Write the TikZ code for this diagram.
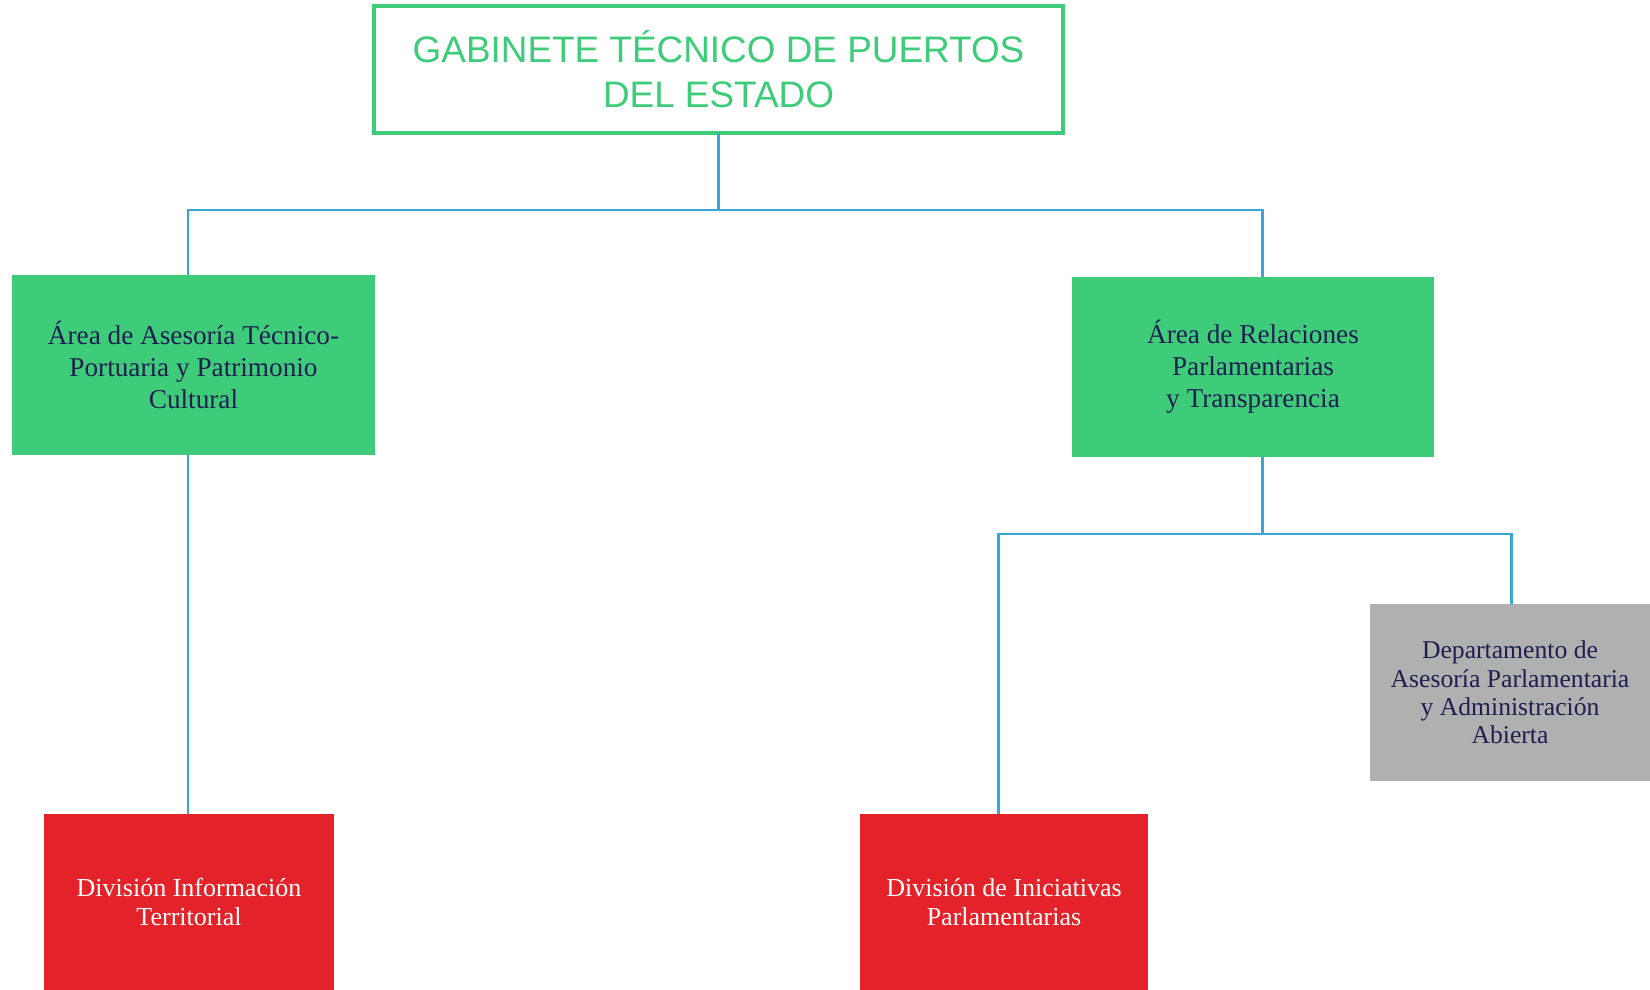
\documentclass[tikz,border=0pt]{standalone}
\usepackage{fontspec}
\usepackage{xcolor}
\usepackage{tikz}
\usetikzlibrary{positioning}
\setmainfont{Liberation Serif}
\newfontfamily\gabfont{Liberation Sans}
\definecolor{gabgreen}{RGB}{62,204,122}
\definecolor{gabred}{RGB}{227,35,41}
\definecolor{gabgrey}{RGB}{176,176,176}
\definecolor{gabblue}{RGB}{56,166,214}
\definecolor{gabnavy}{RGB}{30,30,80}
\tikzset{x=0.02cm, y=-0.02cm, inner sep=0pt, outer sep=0pt,
	every node/.style={align=center},
	gabinete/.style={draw=gabgreen, line width=1.8pt, fill=white, text=gabgreen, font=\gabfont\fontsize{21}{25.5}\selectfont},
	area/.style={fill=gabgreen, text=gabnavy, minimum width=7.25cm, minimum height=3.6cm, font=\fontsize{15.5}{18.3}\selectfont},
	depto/.style={fill=gabgrey, text=gabnavy, font=\fontsize{14.6}{16.2}\selectfont},
	division/.style={fill=gabred, text=white, minimum height=3.52cm, font=\fontsize{14.8}{16.8}\selectfont},
	tie/.style={draw=gabblue, line width=1.7pt}}

\begin{document}
\begin{tikzpicture}
	\useasboundingbox (0,0) rectangle (1650,990);
	\node[gabinete, minimum width=13.78cm, minimum height=2.54cm] (Gabinete) at (718.5,69.5) {GABINETE TÉCNICO DE PUERTOS\\DEL ESTADO};
	\node[area] (Tecnico) at (193.5,365) {Área de Asesoría Técnico-\\Portuaria y Patrimonio\\Cultural};
	\node[area] (Relaciones) at (1253,367) {Área de Relaciones\\Parlamentarias\\y Transparencia};
	\node[depto, minimum width=5.6cm, minimum height=3.54cm] (Departamento) at (1510,692.5) {Departamento de\\Asesoría Parlamentaria\\y Administración\\Abierta};
	\node[division, minimum width=5.8cm] (Territorial) at (189,902) {División Información\\Territorial};
	\node[division, minimum width=5.76cm] (Iniciativas) at (1004,902) {División de Iniciativas\\Parlamentarias};
	\coordinate (Bus Left) at (188,210);
	\coordinate (Bus Right) at (1262,210);
	\coordinate (Sub Left) at (998,534);
	\coordinate (Sub Right) at (1511,534);
	\draw[tie]
		(Gabinete.south) -- (Gabinete.south |- Bus Left)
		(Bus Left |- Tecnico.north) -- (Bus Left) -- (Bus Right) -- (Bus Right |- Relaciones.north)
		(Bus Left |- Tecnico.south) -- (Bus Left |- Territorial.north)
		(Bus Right |- Relaciones.south) -- (Bus Right |- Sub Left)
		(Sub Left |- Iniciativas.north) -- (Sub Left) -- (Sub Right) -- (Sub Right |- Departamento.north);
\end{tikzpicture}
\end{document}
